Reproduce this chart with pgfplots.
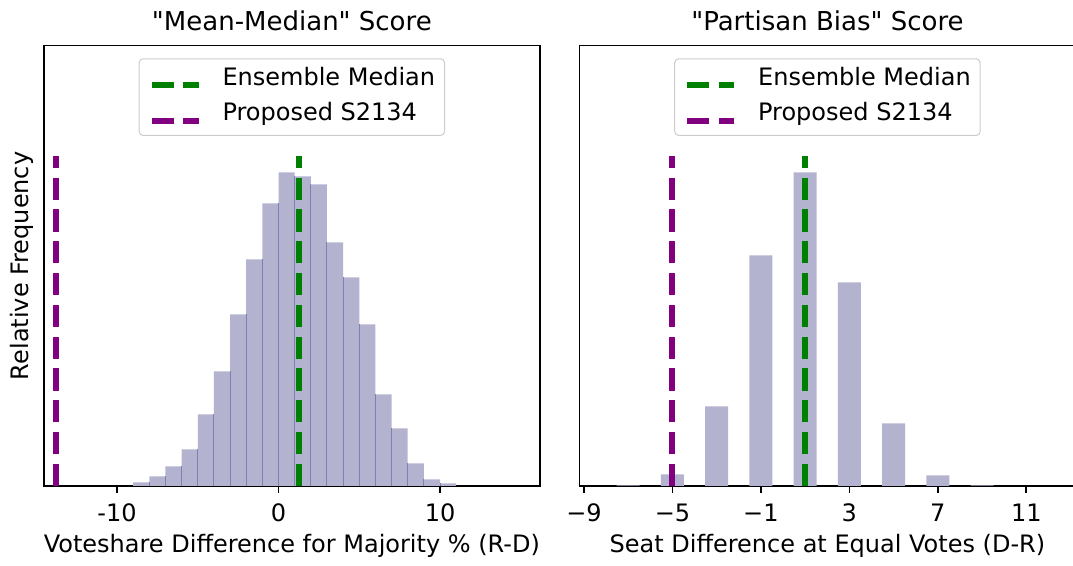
\documentclass[border=0pt]{standalone}
\usepackage{fontspec}
\setmainfont{DejaVu Sans}
\usepackage{pgfplots}
\pgfplotsset{compat=1.18}
\definecolor{barfill}{RGB}{179,179,207}
\definecolor{baredge}{RGB}{128,128,176}
\definecolor{mplgreen}{RGB}{0,128,0}
\definecolor{mplpurple}{RGB}{128,0,128}
\definecolor{legframe}{RGB}{204,204,204}
\pgfplotsset{
  every axis title shift=0pt,
  myaxis/.style={
    scale only axis, width=248.15pt, height=220.15pt,
    ymin=0, ymax=1.321, ytick=\empty,
    axis line style={line width=0.8pt},
    tick align=outside, major tick length=3.5pt,
    xtick pos=left,
    xtick style={line width=0.8pt, black},
    font=\fontsize{12}{14.4}\selectfont,
    xticklabel style={anchor=base, inner sep=0pt, yshift=-14.35pt},
    xlabel style={at={(axis description cs:0.5,0)}, anchor=base, yshift=-33.35pt, inner sep=0pt},
    title style={at={(axis description cs:0.5,1)}, anchor=base, yshift=7.5pt, inner sep=0pt, font=\fontsize{13}{15.6}\selectfont},
    legend image code/.code={\draw[##1] (0pt,0pt) -- (23.5pt,0pt);},
    legend cell align=left,
    legend style={at={(axis description cs:0.5,1)}, anchor=north, yshift=-6.3pt,
      draw=legframe, line width=0.5pt, rounded corners=2pt, fill=white,
      inner xsep=4.7pt, inner ysep=4.25pt, row sep=5.85pt, column sep=10.5pt,
      nodes={inner sep=0pt, text height=9pt, text depth=3pt, anchor=base west},
      font=\fontsize{12}{14.4}\selectfont},
  },
  vline/.style={line width=3pt, dash pattern=on 11.1pt off 4.8pt},
}
\begin{document}
\begin{tikzpicture}
\useasboundingbox (0,0) rectangle (536.5pt,283pt);
\begin{axis}[myaxis, at={(21.85pt,40pt)}, anchor=south west,
  xmin=-14.54, xmax=16.19,
  xtick={-10,0,10}, xticklabels={-10,0,10},
  title={\textquotedbl Mean-Median\textquotedbl{} Score},
  xlabel={Voteshare Difference for Majority \% (R-D)},
  ylabel={Relative Frequency},
  ylabel style={at={(axis description cs:-0.0206,0.5)}, anchor=south, inner sep=0pt},
]
\addplot[ybar interval, fill=barfill, draw=none, forget plot] coordinates {
(-9,0.011) (-8,0.029) (-7,0.059) (-6,0.110) (-5,0.215) (-4,0.344) (-3,0.515)
(-2,0.680) (-1,0.848) (0,0.941) (1,0.929) (2,0.905) (3,0.731) (4,0.626)
(5,0.485) (6,0.275) (7,0.173) (8,0.068) (9,0.020) (10,0.008) (11,0.008)};
\addplot[ycomb, baredge, line width=0.5pt, mark=none, forget plot] coordinates {
(-8,0.011) (-7,0.029) (-6,0.059) (-5,0.110) (-4,0.215) (-3,0.344) (-2,0.515)
(-1,0.680) (0,0.848) (1,0.929) (2,0.905) (3,0.731) (4,0.626) (5,0.485)
(6,0.275) (7,0.173) (8,0.068) (9,0.020) (10,0.008)};
\addplot[vline, mplgreen] coordinates {(1.26,0) (1.26,0.99)};
\addlegendentry{Ensemble Median}
\addplot[vline, mplpurple] coordinates {(-13.80,0) (-13.80,0.99)};
\addlegendentry{Proposed S2134}
\end{axis}
\begin{axis}[myaxis, at={(289.65pt,40pt)}, anchor=south west,
  xmin=-9.2125, xmax=13.23,
  xtick={-9,-5,-1,3,7,11}, xticklabels={−9,−5,−1,3,7,11},
  title={\textquotedbl Partisan Bias\textquotedbl{} Score},
  xlabel={Seat Difference at Equal Votes (D-R)},
]
\addplot[ybar, bar width=1.04, bar shift=0pt, fill=barfill, draw=none, forget plot] coordinates {
(-7,0.002) (-5,0.035) (-3,0.239) (-1,0.692) (1,0.941) (3,0.611) (5,0.188) (7,0.032) (9,0.002)};
\addplot[vline, mplgreen] coordinates {(1,0) (1,0.99)};
\addlegendentry{Ensemble Median}
\addplot[vline, mplpurple] coordinates {(-5,0) (-5,0.99)};
\addlegendentry{Proposed S2134}
\end{axis}
\end{tikzpicture}
\end{document}
